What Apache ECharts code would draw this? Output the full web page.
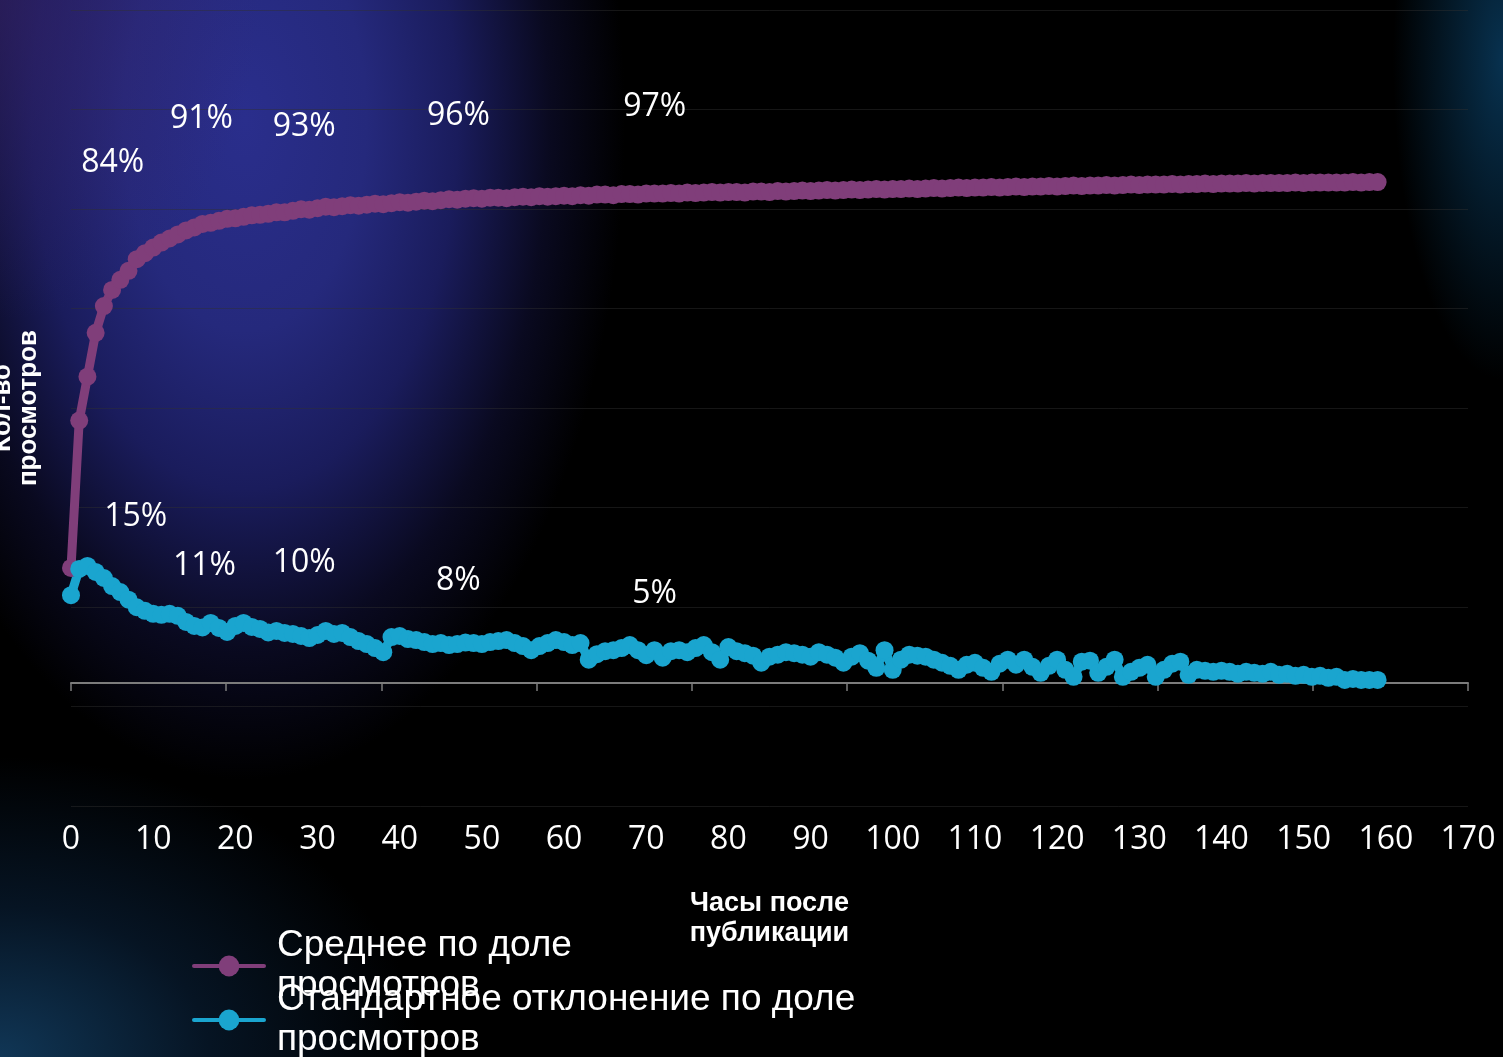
<!DOCTYPE html>
<html>
<head>
<meta charset="utf-8">
<script src="https://cdn.jsdelivr.net/npm/echarts@6/dist/echarts.min.js"></script>
<style>
  html, body { margin: 0; padding: 0; width: 1503px; height: 1057px; overflow: hidden; background: #000; }
  #chart {
    width: 1503px; height: 1057px;
    background:
      radial-gradient(ellipse 260px 320px at 0px 0px, rgba(58,36,108,0.55) 0%, rgba(0,0,0,0) 100%),
      radial-gradient(ellipse 380px 660px at 245px 120px, rgb(42,46,140) 0%, rgb(37,41,124) 32%, rgb(26,28,92) 56%, rgba(12,12,40,0.8) 80%, rgba(0,0,0,0) 100%),
      radial-gradient(ellipse 420px 300px at 0px 1057px, rgba(18,60,95,0.9) 0%, rgba(12,40,70,0.5) 50%, rgba(0,0,0,0) 100%),
      radial-gradient(ellipse 110px 320px at 1503px 60px, rgba(10,66,106,0.75) 0%, rgba(0,0,0,0) 100%),
      #000;
  }
</style>
</head>
<body>
<div id="chart"></div>
<script>
// Mean share of views by hour after publication, %
const meanShare = [
  22.8, 52.0, 60.7, 69.4, 74.7, 77.9, 79.9, 81.7, 84.0, 85.2,
  86.3, 87.3, 88.1, 88.9, 89.7, 90.3, 91.0, 91.2, 91.6, 92.0,
  92.1, 92.4, 92.7, 92.8, 93.0, 93.3, 93.3, 93.6, 93.9, 93.8,
  94.1, 94.4, 94.3, 94.5, 94.7, 94.6, 94.8, 95.0, 94.9, 95.1,
  95.3, 95.2, 95.4, 95.6, 95.5, 95.7, 95.9, 95.8, 96.0, 96.1,
  96.0, 96.2, 96.2, 96.1, 96.3, 96.4, 96.3, 96.5, 96.4, 96.5,
  96.6, 96.5, 96.7, 96.6, 96.8, 96.8, 96.7, 96.9, 96.9, 96.8,
  97.0, 97.0, 97.0, 97.1, 97.0, 97.2, 97.1, 97.2, 97.3, 97.2,
  97.3, 97.3, 97.2, 97.4, 97.4, 97.3, 97.5, 97.4, 97.5, 97.6,
  97.5, 97.6, 97.7, 97.6, 97.7, 97.8, 97.7, 97.8, 97.9, 97.8,
  97.9, 97.9, 98.0, 97.9, 98.0, 98.1, 98.0, 98.1, 98.2, 98.1,
  98.2, 98.2, 98.3, 98.2, 98.3, 98.4, 98.3, 98.4, 98.4, 98.5,
  98.4, 98.5, 98.6, 98.5, 98.6, 98.6, 98.7, 98.6, 98.7, 98.8,
  98.7, 98.8, 98.8, 98.8, 98.9, 98.8, 98.9, 98.9, 99.0, 98.9,
  99.0, 99.0, 99.0, 99.1, 99.0, 99.1, 99.1, 99.1, 99.1, 99.2,
  99.1, 99.2, 99.2, 99.2, 99.2, 99.2, 99.3, 99.2, 99.3, 99.3
];

// Standard deviation of the share of views by hour, %
const stdShare = [
  17.4, 22.6, 23.2, 22.0, 20.8, 19.2, 18.0, 16.5, 15.0, 14.3,
  13.7, 13.5, 13.7, 13.3, 12.1, 11.3, 11.0, 11.9, 10.9, 10.1,
  11.3, 11.9, 11.1, 10.7, 10.0, 10.3, 9.9, 9.7, 9.3, 8.9,
  9.5, 10.3, 9.7, 9.9, 9.1, 8.3, 7.7, 6.9, 6.1, 9.1,
  9.3, 8.7, 8.5, 8.1, 7.7, 7.9, 7.5, 7.7, 8.0, 7.9,
  7.7, 8.1, 8.3, 8.5, 7.9, 7.3, 6.5, 7.3, 7.9, 8.5,
  8.1, 7.5, 7.9, 4.6, 5.7, 6.3, 6.5, 6.9, 7.5, 6.5,
  5.5, 6.5, 5.0, 6.3, 6.5, 6.1, 6.9, 7.5, 6.1, 4.6,
  7.1, 6.3, 5.9, 5.4, 4.0, 5.2, 5.6, 6.1, 5.9, 5.6,
  5.2, 6.1, 5.6, 5.0, 4.0, 5.2, 5.9, 4.4, 3.0, 6.5,
  2.6, 4.6, 5.6, 5.4, 5.2, 4.6, 4.0, 3.4, 2.6, 3.6,
  4.0, 3.0, 2.2, 3.8, 4.6, 3.6, 4.6, 3.2, 2.0, 3.4,
  4.6, 2.6, 1.2, 4.2, 4.4, 2.0, 3.2, 4.6, 1.2, 2.2,
  3.0, 3.6, 1.2, 2.6, 3.8, 4.2, 1.6, 2.6, 2.4, 2.2,
  2.4, 2.2, 1.8, 2.2, 2.0, 1.8, 2.2, 1.6, 1.8, 1.4,
  1.6, 1.2, 1.4, 1.0, 1.2, 0.6, 0.8, 0.6, 0.6, 0.6
];

// Hours whose values are called out above the curves
const labelHours = [8, 16, 24, 48, 72];

const meanName = 'Среднее по доле просмотров';
const stdName = 'Стандартное отклонение по доле просмотров';
const xTitle = 'Часы после\nпубликации';
const yTitle = 'Кол-во\nпросмотров';

// Pixel offsets of the callout texts from their points
const meanLabelOffsets = [[-24, -96], [-1, -105], [36, -87], [-7, -83], [-8, -87]];
const stdLabelOffsets = [[-1, -90], [2, -62], [36, -70], [-7, -62], [-8, -64]];

const MEAN_COLOR = '#803e7a';
const STD_COLOR = '#1aa5cf';

function callouts(values, offsets) {
  return labelHours.map((h, i) => ({
    coord: [h, values[h]],
    value: values[h],
    label: { offset: offsets[i] }
  }));
}

function lineSeries(name, values, color, offsets) {
  return {
    name: name,
    type: 'line',
    xAxisIndex: 0,
    yAxisIndex: 0,
    data: values.map((v, h) => [h, v]),
    symbol: 'circle',
    symbolSize: 18,
    showSymbol: true,
    showAllSymbol: true,
    lineStyle: { color: color, width: 9, cap: 'round', join: 'round' },
    itemStyle: { color: color },
    emphasis: { disabled: true },
    markPoint: {
      symbol: 'circle',
      symbolSize: 1,
      itemStyle: { color: 'rgba(0,0,0,0)' },
      label: {
        show: true,
        position: 'inside',
        color: '#ffffff',
        fontFamily: 'Open Sans',
        fontSize: 32,
        formatter: p => Math.round(p.value) + '%'
      },
      data: callouts(values, offsets)
    }
  };
}

const chart = echarts.init(document.getElementById('chart'), null, { renderer: 'canvas' });

const legendBase = {
  orient: 'vertical',
  left: 192,
  padding: 0,
  itemWidth: 70,
  itemHeight: 26,
  lineStyle: { width: 4 },
  textStyle: {
    color: '#ffffff',
    fontFamily: 'Liberation Sans',
    fontSize: 37,
    lineHeight: 40,
    padding: [0, 0, 0, 8]
  },
  formatter: n => n.replace(' просмотров', '\nпросмотров'),
  selectedMode: false
};

chart.setOption({
  backgroundColor: 'transparent',
  animation: false,
  grid: { left: 71, right: 35, top: 10, bottom: 251, containLabel: false, outerBoundsMode: 'none' },
  legend: [
    Object.assign({}, legendBase, { top: 926, data: [meanName] }),
    Object.assign({}, legendBase, { top: 980, data: [stdName] })
  ],
  xAxis: [
    {
      type: 'value',
      position: 'bottom',
      min: 0,
      max: 170,
      interval: 10,
      axisLine: { show: false, onZero: false },
      axisTick: { show: false },
      splitLine: { show: false },
      axisLabel: {
        color: '#ffffff',
        fontFamily: 'Open Sans',
        fontSize: 32,
        lineHeight: 32,
        margin: 18
      },
      name: xTitle,
      nameLocation: 'middle',
      nameGap: 83,
      nameTextStyle: {
        color: '#ffffff',
        fontFamily: 'Liberation Sans',
        fontWeight: 'bold',
        fontSize: 27,
        lineHeight: 30
      }
    },
    {
      type: 'value',
      position: 'top',
      min: 0,
      max: 170,
      interval: 170 / 9,
      axisLine: {
        show: true,
        onZero: true,
        onZeroAxisIndex: 0,
        lineStyle: { color: '#7c7c7c', width: 2 }
      },
      axisTick: { show: true, inside: true, length: 8, lineStyle: { color: '#7c7c7c', width: 1.5 } },
      axisLabel: { show: false },
      splitLine: { show: false }
    }
  ],
  yAxis: [
    {
      type: 'value',
      position: 'right',
      min: -24.4,
      max: 133.4,
      show: false,
      splitLine: { show: false }
    },
    {
      type: 'value',
      position: 'left',
      min: 0,
      max: 8,
      interval: 1,
      axisLine: { show: false },
      axisTick: { show: false },
      axisLabel: { show: false },
      splitLine: { show: true, lineStyle: { color: 'rgba(48,48,48,0.45)', width: 1 } },
      name: yTitle,
      nameLocation: 'middle',
      nameRotate: 90,
      nameGap: 29,
      nameTextStyle: {
        color: '#ffffff',
        fontFamily: 'Liberation Sans',
        fontWeight: 'bold',
        fontSize: 26,
        lineHeight: 26
      }
    }
  ],
  series: [
    lineSeries(meanName, meanShare, MEAN_COLOR, meanLabelOffsets),
    lineSeries(stdName, stdShare, STD_COLOR, stdLabelOffsets)
  ]
});
</script>
</body>
</html>
